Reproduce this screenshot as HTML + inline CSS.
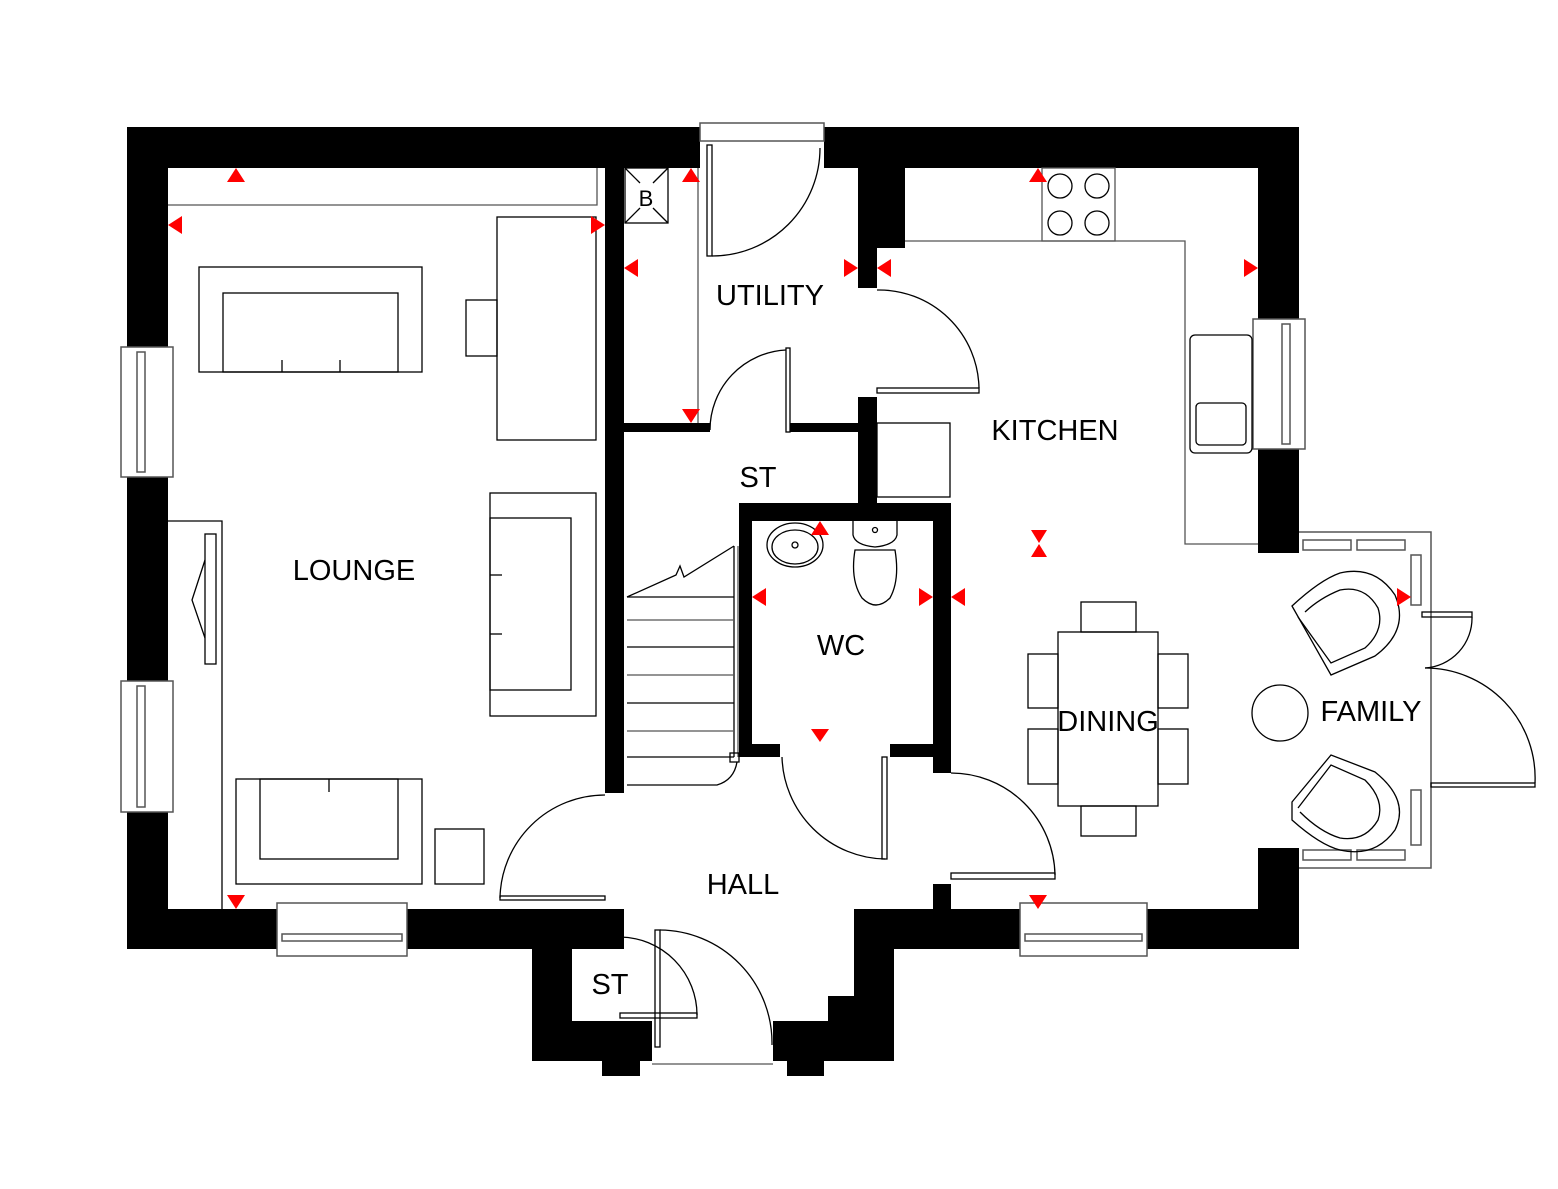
<!DOCTYPE html>
<html><head><meta charset="utf-8"><style>
html,body{margin:0;padding:0;background:#fff}
svg{display:block}
text{font-family:"Liberation Sans",Arial,sans-serif;fill:#000}
</style></head><body>
<svg width="1558" height="1189" viewBox="0 0 1558 1189" xmlns="http://www.w3.org/2000/svg">
<rect width="1558" height="1189" fill="#fff"/>
<g fill="#000">
<rect x="127" y="127" width="573" height="41"/>
<rect x="824" y="127" width="475" height="41"/>
<rect x="127" y="127" width="41" height="822"/>
<rect x="127" y="909" width="497" height="40"/>
<rect x="1258" y="127" width="41" height="426"/>
<rect x="1258" y="848" width="41" height="101"/>
<rect x="854" y="909" width="445" height="40"/>
<rect x="605" y="168" width="19" height="625"/>
<rect x="624" y="423" width="86" height="9"/>
<rect x="790" y="423" width="68" height="9"/>
<rect x="858" y="168" width="19" height="120"/>
<rect x="858" y="168" width="47" height="80"/>
<rect x="858" y="397" width="19" height="108"/>
<rect x="739" y="503" width="212" height="18"/>
<rect x="739" y="503" width="13" height="254"/>
<rect x="933" y="503" width="18" height="270"/>
<rect x="739" y="744" width="41" height="13"/>
<rect x="890" y="744" width="61" height="13"/>
<rect x="933" y="884" width="18" height="25"/>
<rect x="532" y="949" width="40" height="112"/>
<rect x="605" y="909" width="19" height="27"/>
<rect x="532" y="1021" width="120" height="40"/>
<rect x="602" y="1061" width="38" height="15"/>
<rect x="854" y="949" width="40" height="112"/>
<rect x="828" y="996" width="30" height="65"/>
<rect x="773" y="1021" width="60" height="40"/>
<rect x="787" y="1061" width="37" height="15"/>
</g>
<g fill="#fff" stroke="#555" stroke-width="1.5">
<rect x="121" y="347" width="52" height="130"/>
<rect x="137" y="352" width="8" height="120"/>
<rect x="121" y="681" width="52" height="131"/>
<rect x="137" y="686" width="8" height="121"/>
<rect x="277" y="903" width="130" height="53"/>
<rect x="282" y="934" width="120" height="7"/>
<rect x="1020" y="903" width="127" height="53"/>
<rect x="1025" y="934" width="117" height="7"/>
<rect x="1253" y="319" width="52" height="130"/>
<rect x="1282" y="324" width="8" height="120"/>
<rect x="700" y="123" width="124" height="18"/>
<polyline points="1299,532 1431,532 1431,868 1299,868" fill="none"/>
<rect x="1303" y="540" width="48" height="10"/>
<rect x="1357" y="540" width="48" height="10"/>
<rect x="1303" y="850" width="48" height="10"/>
<rect x="1357" y="850" width="48" height="10"/>
<rect x="1411" y="555" width="10" height="50"/>
<rect x="1411" y="790" width="10" height="55"/>
</g>
<g fill="none" stroke="#000" stroke-width="1.3">
<polyline points="168,205 597,205 597,168" stroke="#555"/>
<rect x="497" y="217" width="99" height="223"/>
<rect x="466" y="300" width="31" height="56"/>
<rect x="199" y="267" width="223" height="105"/>
<rect x="223" y="293" width="175" height="79"/>
<line x1="282" y1="360" x2="282" y2="372"/><line x1="340" y1="360" x2="340" y2="372"/>
<rect x="490" y="493" width="106" height="223"/>
<rect x="490" y="518" width="81" height="172"/>
<line x1="490" y1="575" x2="502" y2="575"/><line x1="490" y1="634" x2="502" y2="634"/>
<rect x="236" y="779" width="186" height="105"/>
<rect x="260" y="779" width="138" height="80"/>
<line x1="329" y1="779" x2="329" y2="792"/>
<rect x="435" y="829" width="49" height="55"/>
<polyline points="168,521 222,521 222,909"/>
<rect x="205" y="534" width="11" height="130"/>
<polyline points="205,560 192,600 205,638"/>
<rect x="625" y="168" width="43" height="55"/>
<line x1="625" y1="168" x2="640" y2="183"/><line x1="668" y1="168" x2="653" y2="183"/>
<line x1="625" y1="223" x2="640" y2="208"/><line x1="668" y1="223" x2="653" y2="208"/>
<line x1="698" y1="168" x2="698" y2="423" stroke="#555"/>
<polyline points="905,241 1185,241 1185,544 1258,544" stroke="#555"/>
<rect x="1042" y="168" width="73" height="73" stroke="#555"/>
<circle cx="1060" cy="186" r="12"/><circle cx="1097" cy="186" r="12"/>
<circle cx="1060" cy="223" r="12"/><circle cx="1097" cy="223" r="12"/>
<rect x="1190" y="335" width="62" height="118" rx="5"/>
<rect x="1196" y="403" width="50" height="42" rx="4"/>
<rect x="877" y="423" width="73" height="74"/>
<rect x="1058" y="632" width="100" height="174"/>
<rect x="1081" y="602" width="55" height="30"/>
<rect x="1081" y="806" width="55" height="30"/>
<rect x="1028" y="654" width="30" height="54"/>
<rect x="1028" y="729" width="30" height="55"/>
<rect x="1158" y="654" width="30" height="54"/>
<rect x="1158" y="729" width="30" height="55"/>
<ellipse cx="1280" cy="713" rx="28" ry="28"/>
<path d="M1292,606 L1331,675 L1375,656 Q1410,630 1395,595 Q1375,565 1340,573 Q1320,580 1292,606 Z"/>
<path d="M1298,617 L1331,663 L1365,648 Q1385,630 1378,608 Q1365,585 1340,590 Q1320,598 1305,612"/>
<path d="M1292,802 L1331,755 L1375,772 Q1410,800 1395,830 Q1375,858 1340,850 Q1320,845 1292,820 Z"/>
<path d="M1298,808 L1331,765 L1365,780 Q1385,800 1378,820 Q1365,842 1340,838 Q1320,832 1300,812"/>
<ellipse cx="795" cy="545" rx="28" ry="22"/>
<ellipse cx="795" cy="547" rx="23" ry="17"/>
<circle cx="795" cy="545" r="3"/>
<path d="M853,521 L853,535 Q855,545 875,547 Q895,545 897,535 L897,521"/>
<circle cx="875" cy="530" r="2.5"/>
<path d="M855,550 L895,550 Q900,580 890,598 Q876,612 862,598 Q850,580 855,550 Z"/>
<line x1="734" y1="546" x2="734" y2="757"/>
<line x1="738" y1="546" x2="738" y2="757" stroke="#555"/>
<line x1="627" y1="597" x2="734" y2="597"/>
<line x1="627" y1="620" x2="734" y2="620" stroke="#555"/>
<line x1="627" y1="647" x2="734" y2="647"/>
<line x1="627" y1="675" x2="734" y2="675" stroke="#555"/>
<line x1="627" y1="703" x2="734" y2="703"/>
<line x1="627" y1="731" x2="734" y2="731" stroke="#555"/>
<line x1="627" y1="757" x2="734" y2="757"/>
<path d="M627,785 L717,785 Q734,780 737,762"/>
<polyline points="627,597 676,575 680,566 684,577 734,546"/>
<rect x="730" y="753" width="9" height="9"/>
<rect x="707" y="145" width="5" height="111"/>
<path d="M712,256 A108,108 0 0 0 820,148"/>
<rect x="877" y="388" width="102" height="5"/>
<path d="M877,290 A100,100 0 0 1 979,388"/>
<rect x="786" y="348" width="4" height="84"/>
<path d="M786,350 A80,80 0 0 0 710,430"/>
<rect x="500" y="896" width="105" height="4"/>
<path d="M605,795 A105,105 0 0 0 500,898"/>
<rect x="882" y="757" width="5" height="102"/>
<path d="M782,757 A105,105 0 0 0 885,859"/>
<rect x="951" y="873" width="104" height="6"/>
<path d="M951,773 A104,104 0 0 1 1055,875"/>
<rect x="655" y="930" width="5" height="117"/>
<path d="M660,930 A113,113 0 0 1 772,1045"/>
<rect x="620" y="1013" width="77" height="5"/>
<path d="M620,937 A78,78 0 0 1 697,1015"/>
<line x1="652" y1="1064" x2="773" y2="1064" stroke="#555"/>
<rect x="1422" y="612" width="50" height="5"/>
<path d="M1472,617 A50,50 0 0 1 1425,668"/>
<rect x="1431" y="783" width="104" height="4"/>
<path d="M1425,668 A110,110 0 0 1 1535,783"/>
</g>
<g fill="#f00">
<polygon points="236,168 227,182 245,182"/>
<polygon points="168,225 182,216 182,234"/>
<polygon points="605,225 591,216 591,234"/>
<polygon points="624,268 638,259 638,277"/>
<polygon points="691,168 682,182 700,182"/>
<polygon points="691,423 682,409 700,409"/>
<polygon points="858,268 844,259 844,277"/>
<polygon points="877,268 891,259 891,277"/>
<polygon points="1038,168 1029,182 1047,182"/>
<polygon points="1258,268 1244,259 1244,277"/>
<polygon points="1031,530 1047,530 1039,543"/>
<polygon points="1031,557 1047,557 1039,544"/>
<polygon points="820,521 811,535 829,535"/>
<polygon points="752,597 766,588 766,606"/>
<polygon points="933,597 919,588 919,606"/>
<polygon points="951,597 965,588 965,606"/>
<polygon points="820,742 811,729 829,729"/>
<polygon points="1411,597 1397,588 1397,606"/>
<polygon points="236,909 227,895 245,895"/>
<polygon points="1038,909 1029,895 1047,895"/>
</g>
<g font-size="29">
<text x="354" y="580" text-anchor="middle">LOUNGE</text>
<text x="770" y="305" text-anchor="middle">UTILITY</text>
<text x="758" y="487" text-anchor="middle">ST</text>
<text x="1055" y="440" text-anchor="middle">KITCHEN</text>
<text x="841" y="655" text-anchor="middle">WC</text>
<text x="1108" y="731" text-anchor="middle">DINING</text>
<text x="1371" y="721" text-anchor="middle">FAMILY</text>
<text x="743" y="894" text-anchor="middle">HALL</text>
<text x="610" y="994" text-anchor="middle">ST</text>
<text x="646" y="206" text-anchor="middle" font-size="22">B</text>
</g>
</svg>
</body></html>
